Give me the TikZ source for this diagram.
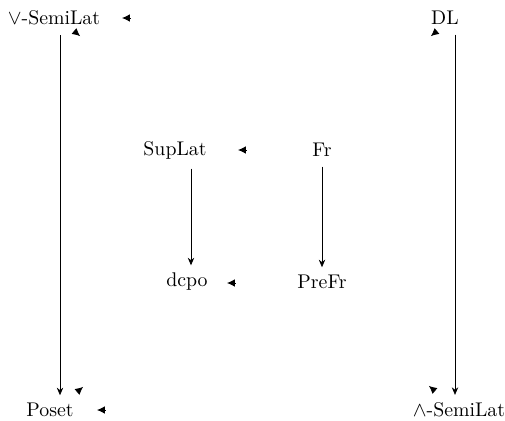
\documentclass[tikz,border=0pt]{standalone}
\usetikzlibrary{arrows.meta}
\begin{document}
\begin{tikzpicture}[x=0.53pt,y=-0.53pt,
  obj/.style={inner sep=0pt,font=\fontsize{10.5}{12}\selectfont},
  arr/.style={-{Stealth[length=4pt,width=3.4pt]},line width=0.4pt},
  tipst/.style={-{Latex[length=4.2pt,width=4pt]},line width=0.4pt}]
\useasboundingbox (0,0) rectangle (505,420);
\node[obj] (vs) at (54,18) {$\vee$-SemiLat};
\node[obj] (dl) at (445,18) {DL};
\node[obj] (sup) at (175,150) {SupLat};
\node[obj] (fr) at (322,150) {Fr};
\node[obj] (dcpo) at (187,282) {dcpo};
\node[obj] (prefr) at (322,282) {PreFr};
\node[obj] (poset) at (50,410) {Poset};
\node[obj] (ws) at (459,410) {$\wedge$-SemiLat};
\draw[arr] ([yshift=-5pt]vs.south -| 60,0) -- ([yshift=4pt]poset.north -| 60,0);
\draw[arr] ([yshift=-5pt]dl.south -| 455,0) -- ([yshift=4pt]ws.north -| 455,0);
\draw[arr] ([yshift=-5pt]sup.south -| 191,0) -- ([yshift=4pt]dcpo.north -| 191,0);
\draw[arr] ([yshift=-5pt]fr.south) -- ([yshift=4pt]prefr.north);
% stray arrow tips
\path (130,18) coordinate (t1) (246,150) coordinate (t2) (235,283) coordinate (t3)
      (105,410) coordinate (t4) (74,31) coordinate (t5) (437,31) coordinate (t6)
      (77,392) coordinate (t7) (435,391) coordinate (t8);
\draw[tipst] (t1) -- ++(180:8);
\draw[tipst] (t2) -- ++(180:8);
\draw[tipst] (t3) -- ++(180:8);
\draw[tipst] (t4) -- ++(180:8);
\draw[tipst] (t5) -- ++(40:8);
\draw[tipst] (t6) -- ++(140:8);
\draw[tipst] (t7) -- ++(-40:8);
\draw[tipst] (t8) -- ++(-140:8);
\end{tikzpicture}
\end{document}
